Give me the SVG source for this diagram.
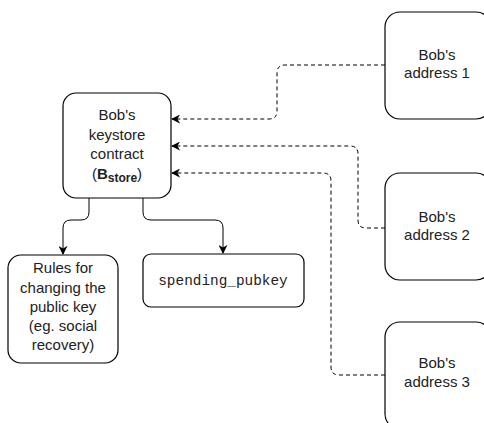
<svg xmlns="http://www.w3.org/2000/svg" width="484" height="423" viewBox="0 0 484 423">
<style>
.box{fill:#fff;stroke:#000;stroke-width:1.2}
.t{font-family:"Liberation Sans",Arial,sans-serif;font-size:15px;fill:#222;text-anchor:middle}
.m{font-family:"Liberation Mono","Courier New",monospace;font-size:14.4px;fill:#222;text-anchor:middle}
.c{fill:none;stroke:#000;stroke-width:1}
.d{stroke-dasharray:4 3}
</style>
<defs>
<marker id="ah" viewBox="0 0 10 10" refX="9" refY="5" markerUnits="userSpaceOnUse" markerWidth="9" markerHeight="9" orient="auto">
<path d="M0,0 L10,5 L0,10 L3,5 z" fill="#000"/>
</marker>
</defs>
<rect width="484" height="423" fill="#fff"/>
<g id="connectors">
<path class="c d" d="M385,65 H285 Q277,65 277,73 V111 Q277,119 269,119 H172" marker-end="url(#ah)"/>
<path class="c d" d="M385,228 H366 Q358,228 358,220 V154 Q358,146 350,146 H172" marker-end="url(#ah)"/>
<path class="c d" d="M385,375 H339 Q331,375 331,367 V181 Q331,173 323,173 H172" marker-end="url(#ah)"/>
<path class="c" d="M89,198 V212 Q89,220 81,220 H71 Q63,220 63,228 V254" marker-end="url(#ah)"/>
<path class="c" d="M143,198 V212 Q143,220 151,220 H215 Q223,220 223,228 V253" marker-end="url(#ah)"/>
</g>
<g id="keystore">
<rect class="box" x="63" y="93" width="108" height="105" rx="13"/>
<text class="t" x="117" y="120">Bob's</text>
<text class="t" x="117" y="140">keystore</text>
<text class="t" x="117" y="159">contract</text>
<text class="t" x="117" y="179">(<tspan font-weight="bold">B</tspan><tspan font-weight="bold" font-size="12px" dy="3">store</tspan><tspan dy="-3">)</tspan></text>
</g>
<g id="rules">
<rect class="box" x="8" y="255" width="110" height="108" rx="13"/>
<text class="t" x="63" y="273">Rules for</text>
<text class="t" x="63" y="293">changing the</text>
<text class="t" x="63" y="312">public key</text>
<text class="t" x="63" y="331">(eg. social</text>
<text class="t" x="63" y="350">recovery)</text>
</g>
<g id="spending">
<rect class="box" x="143" y="254" width="161" height="53" rx="8"/>
<text class="m" x="223" y="285">spending_pubkey</text>
</g>
<g id="addr1">
<rect class="box" x="385" y="12" width="106" height="107" rx="15"/>
<text class="t" x="437" y="60">Bob's</text>
<text class="t" x="437" y="78">address 1</text>
</g>
<g id="addr2">
<rect class="box" x="385" y="173" width="106" height="107" rx="15"/>
<text class="t" x="437" y="222">Bob's</text>
<text class="t" x="437" y="240">address 2</text>
</g>
<g id="addr3">
<rect class="box" x="385" y="322" width="106" height="107" rx="15"/>
<text class="t" x="437" y="368">Bob's</text>
<text class="t" x="437" y="387">address 3</text>
</g>
</svg>
